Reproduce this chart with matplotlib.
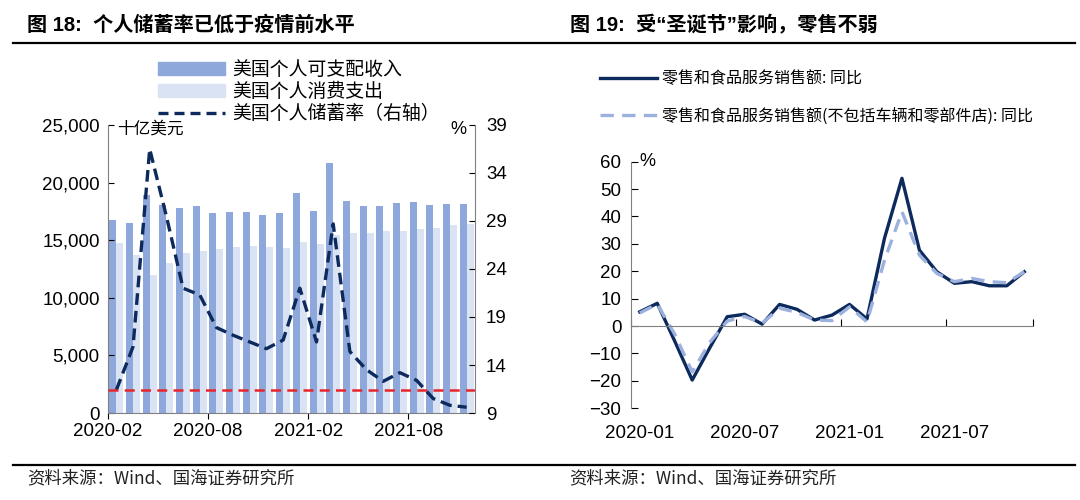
import numpy as np
import matplotlib.pyplot as plt
from matplotlib.lines import Line2D
from matplotlib.patches import Patch

plt.rcParams['font.family'] = ['Liberation Sans', 'Noto Sans CJK SC', 'DejaVu Sans']

# ---- left panel data: 2020-02 .. 2021-11 ----
months_l = ['2020-02', '2020-03', '2020-04', '2020-05', '2020-06', '2020-07',
            '2020-08', '2020-09', '2020-10', '2020-11', '2020-12', '2021-01',
            '2021-02', '2021-03', '2021-04', '2021-05', '2021-06', '2021-07',
            '2021-08', '2021-09', '2021-10', '2021-11']
income = [16750, 16460, 18920, 18050, 17770, 17970, 17330, 17480, 17420, 17190,
          17330, 19120, 17530, 21730, 18430, 17990, 17990, 18250, 18280, 18050,
          18110, 18170]
spending = [14730, 13710, 11980, 12990, 13860, 14090, 14240, 14440, 14500, 14440,
            14350, 14870, 14670, 15450, 15600, 15600, 15800, 15830, 15970, 16030,
            16320, 16400]
saving_rate = [11.4, 15.9, 36.5, 29.5, 22.0, 21.3, 17.9, 17.1, 16.4, 15.7, 16.6,
               22.0, 16.4, 28.7, 15.4, 13.5, 12.3, 13.2, 12.4, 10.5, 9.8, 9.6]
pre_covid_rate = 11.4

# ---- right panel data: 2020-01 .. 2021-11 ----
months_r = ['2020-01', '2020-02', '2020-03', '2020-04', '2020-05', '2020-06',
            '2020-07', '2020-08', '2020-09', '2020-10', '2020-11', '2020-12',
            '2021-01', '2021-02', '2021-03', '2021-04', '2021-05', '2021-06',
            '2021-07', '2021-08', '2021-09', '2021-10', '2021-11']
retail = [5.2, 8.3, -5.5, -19.7, -8.0, 3.4, 4.3, 0.7, 7.9, 6.1, 2.2, 4.0,
          7.9, 2.6, 32.0, 53.9, 27.7, 19.8, 15.6, 16.2, 14.7, 14.7, 19.8]
retail_ex_auto = [4.8, 8.0, -3.0, -16.7, -6.0, 1.8, 3.5, 1.0, 6.5, 5.0, 2.2, 2.0,
                  7.0, 1.5, 24.0, 41.7, 25.9, 19.2, 16.2, 17.4, 16.2, 15.8, 19.8]

DARK_BAR = '#8EA8DB'
LIGHT_BAR = '#DAE3F3'
NAVY = '#0D2A5C'

fig = plt.figure(figsize=(10.8, 5.0), dpi=100)

# titles, rules, sources
fig.text(0.025, 0.95, '图 18:  个人储蓄率已低于疫情前水平', fontsize=14.5,
         fontweight='bold', va='center', family=['Liberation Sans', 'Noto Sans CJK SC'])
fig.text(0.528, 0.95, '图 19:  受“圣诞节”影响，零售不弱', fontsize=14.5,
         fontweight='bold', va='center', family=['Liberation Sans', 'Noto Sans CJK SC'])
fig.add_artist(Line2D([0.012, 0.995], [0.915, 0.915], color='black', lw=1.6))
fig.add_artist(Line2D([0.012, 0.995], [0.07, 0.07], color='black', lw=1.6))
fig.text(0.025, 0.044, '资料来源：Wind、国海证券研究所', fontsize=12.5, va='center',
         color='#222222', family=['Noto Sans CJK SC'])
fig.text(0.527, 0.044, '资料来源：Wind、国海证券研究所', fontsize=12.5, va='center',
         color='#222222', family=['Noto Sans CJK SC'])

# ---- left chart ----
ax = fig.add_axes([0.1, 0.174, 0.3398, 0.576])
x = np.arange(len(months_l))
w = 0.42
ax.bar(x - w / 2, income, w, color=DARK_BAR)
ax.bar(x + w / 2, spending, w, color=LIGHT_BAR)
ax.set_xlim(-0.5, len(months_l) - 0.5)
ax.set_ylim(0, 25000)
ax.set_yticks(range(0, 25001, 5000))
ax.set_yticklabels([f'{v:,}' for v in range(0, 25001, 5000)])
ticks = [-0.5, 5.5, 11.5, 17.5]
ax.set_xticks(ticks)
ax.set_xticklabels([months_l[0], months_l[6], months_l[12], months_l[18]])
ax.tick_params(axis='y', direction='in', labelsize=13.5, length=4, pad=6)
ax.tick_params(axis='x', direction='out', labelsize=13.5, length=4, pad=3)
for s in ['top', 'right']:
    ax.spines[s].set_visible(False)
for s in ['left', 'bottom']:
    ax.spines[s].set_color('#808080')
ax.text(0.025, 0.985, '十亿美元', transform=ax.transAxes, fontsize=12,
        va='center', ha='left', family=['Noto Sans CJK SC'])

ax2 = ax.twinx()
ax2.plot(x, saving_rate, color=NAVY, lw=2.4, ls=(0, (3.5, 1.8)))
ax2.axhline(pre_covid_rate, color='#E8252B', lw=1.8, ls=(0, (4, 2.5)))
ax2.set_ylim(9, 39)
ax2.set_yticks(range(9, 40, 5))
ax2.tick_params(axis='y', direction='in', labelsize=13.5, length=4, pad=8)
for s in ['top', 'left', 'bottom']:
    ax2.spines[s].set_visible(False)
ax2.spines['right'].set_color('#808080')
ax2.text(0.955, 0.985, '%', transform=ax2.transAxes, fontsize=13,
         va='center', ha='center')

handles = [Patch(color=DARK_BAR), Patch(color=LIGHT_BAR),
           Line2D([0], [0], color=NAVY, lw=2.4, ls=(0, (3, 1.8)))]
labels = ['美国个人可支配收入', '美国个人消费支出', '美国个人储蓄率（右轴）']
fig.legend(handles, labels, loc='upper left', bbox_to_anchor=(0.138, 0.9),
           frameon=False, handlelength=3.5, handleheight=0.7,
           labelspacing=0.05, handletextpad=0.4, borderpad=0,
           prop={'family': ['Noto Sans CJK SC'], 'size': 13.6})

# ---- right chart ----
bx = fig.add_axes([0.5843, 0.1834, 0.3722, 0.4934])
xr = np.arange(len(months_r))
l1, = bx.plot(xr, retail, color=NAVY, lw=2.4)
l2, = bx.plot(xr, retail_ex_auto, color='#9CB1DD', lw=2.4, ls=(0, (4, 2.5)))
bx.set_xlim(-0.5, len(months_r) - 0.5)
bx.set_ylim(-30, 60)
bx.set_yticks(range(-30, 61, 10))
bx.tick_params(axis='y', direction='in', labelsize=13.5, length=5, pad=7)
bx.spines['bottom'].set_position(('data', 0))
bx.spines['bottom'].set_color('#808080')
bx.spines['left'].set_color('#808080')
for s in ['top', 'right']:
    bx.spines[s].set_visible(False)
bx.set_xticks([-0.5, 5.5, 11.5, 17.5, 22.5])
bx.set_xticklabels([])
bx.tick_params(axis='x', which='major', direction='in', length=5)
bx.set_xticks([0, 6, 12, 18], minor=True)
bx.set_xticklabels([months_r[0], months_r[6], months_r[12], months_r[18]], minor=True)
bx.tick_params(axis='x', which='minor', length=0, labelsize=13.5, pad=71)
bx.text(0.02, 1.0, '%', transform=bx.transAxes, fontsize=13, va='center', ha='left')

fig.legend([l1, l2], ['零售和食品服务销售额: 同比',
                      '零售和食品服务销售额(不包括车辆和零部件店): 同比'],
           loc='upper left', bbox_to_anchor=(0.548, 0.875), frameon=False,
           handlelength=3.6, labelspacing=1.25, handletextpad=0.3, borderpad=0,
           prop={'family': ['Noto Sans CJK SC'], 'size': 11.5})

fig.savefig('out.png', dpi=100)
